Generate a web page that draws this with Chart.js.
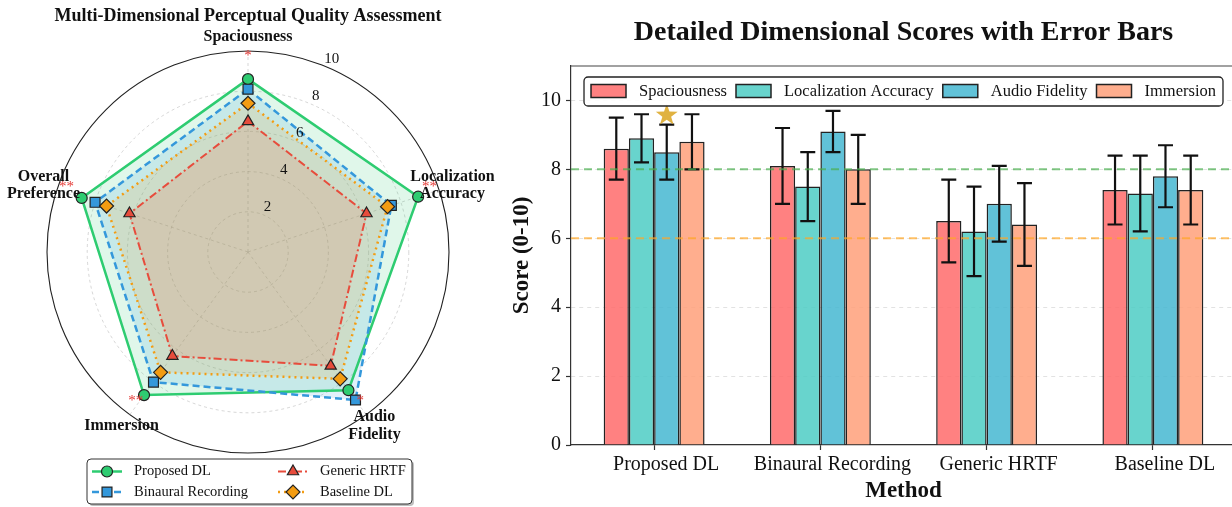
<!DOCTYPE html>
<html>
<head>
<meta charset="utf-8">
<script src="https://cdn.jsdelivr.net/npm/chart.js@4.4.0/dist/chart.umd.min.js"></script>
<style>
  html, body { margin: 0; padding: 0; background: #fff; overflow: hidden; }
  #wrap { position: relative; width: 1232px; height: 507px; overflow: hidden; }
  #radarBox { position: absolute; left: 0; top: 0; width: 500px; height: 507px; }
  #barBox { position: absolute; left: 500px; top: 0; width: 800px; height: 507px; }
</style>
</head>
<body>
<div id="wrap">
  <div id="radarBox"><canvas id="radarCanvas"></canvas></div>
  <div id="barBox"><canvas id="barCanvas"></canvas></div>
</div>
<script>
// ---- data ----
const methods = ['Proposed DL', 'Binaural Recording', 'Generic HRTF', 'Baseline DL'];
const dimensions = ['Spaciousness', 'Localization Accuracy', 'Audio Fidelity', 'Immersion', 'Overall Preference'];
const proposedScores = [8.6, 8.9, 8.5, 8.8, 8.7];
const binauralScores = [8.1, 7.5, 9.1, 8.0, 8.0];
const genericScores = [6.5, 6.2, 7.0, 6.4, 6.2];
const baselineScores = [7.4, 7.3, 7.8, 7.4, 7.4];
// error bars (first four dimensions only)
const proposedErr = [0.9, 0.7, 0.8, 0.8];
const binauralErr = [1.1, 1.0, 0.6, 1.0];
const genericErr = [1.2, 1.3, 1.1, 1.2];
const baselineErr = [1.0, 1.1, 0.9, 1.0];
const significance = ['*', '**', '*', '**', '**'];
const radialTickValues = [2, 4, 6, 8, 10];
const refLineValues = [8, 6];
const starMethod = 0, starDim = 2, starValue = 9.6;

const serif = '"Liberation Serif", "Times New Roman", serif';
Chart.defaults.font.family = serif;
Chart.defaults.color = '#111';

// ---- radar ----
const radarDecor = {
  id: 'radarDecor',
  afterDraw(chart) {
    const ctx = chart.ctx;
    const r = chart.scales.r;
    ctx.save();
    ctx.fillStyle = '#111';
    ctx.textAlign = 'center';
    ctx.textBaseline = 'middle';
    ctx.font = 'bold 18px ' + serif;
    ctx.fillText('Multi-Dimensional Perceptual Quality Assessment', r.xCenter, 16);

    // axis labels
    ctx.font = 'bold 16px ' + serif;
    dimensions.forEach((name, i) => {
      const p = r.getPointPositionForValue(i, 10.7);
      const lines = name.indexOf(' ') > 0 ? name.split(' ') : [name];
      lines.forEach((ln, k) => {
        ctx.fillText(ln, p.x, p.y + (k - (lines.length - 1) / 2) * 17.5);
      });
    });

    // radial tick labels
    ctx.font = '15px ' + serif;
    const a = 23.5 * Math.PI / 180;
    radialTickValues.forEach(v => {
      const d = r.getDistanceFromCenterForValue(v) + 9;
      ctx.fillText(String(v), r.xCenter + Math.sin(a) * d, r.yCenter - Math.cos(a) * d);
    });

    // significance markers
    ctx.fillStyle = '#e53935';
    ctx.font = '15px ' + serif;
    ctx.textBaseline = 'alphabetic';
    significance.forEach((s, i) => {
      const p = r.getPointPositionForValue(i, 9.5);
      ctx.fillText(s, p.x, p.y - 1.5);
    });

    // legend
    const bx = 87, by = 459, bw = 325, bh = 45;
    ctx.fillStyle = 'rgba(0,0,0,0.25)';
    ctx.beginPath(); ctx.roundRect(bx + 2, by + 2, bw, bh, 4); ctx.fill();
    ctx.fillStyle = '#fff';
    ctx.strokeStyle = '#333';
    ctx.lineWidth = 1;
    ctx.beginPath(); ctx.roundRect(bx, by, bw, bh, 4); ctx.fill(); ctx.stroke();
    const cols = [92, 278], rows = [471.5, 492];
    const order = [0, 2, 1, 3];
    order.forEach((di, k) => {
      const ds = chart.data.datasets[di];
      const x0 = cols[k % 2], y0 = rows[Math.floor(k / 2)];
      ctx.save();
      ctx.strokeStyle = ds.borderColor;
      ctx.lineWidth = ds.borderWidth;
      ctx.setLineDash(ds.borderDash || []);
      ctx.beginPath(); ctx.moveTo(x0, y0); ctx.lineTo(x0 + 30, y0); ctx.stroke();
      ctx.setLineDash([]);
      ctx.fillStyle = ds.pointBackgroundColor;
      ctx.strokeStyle = ds.pointBorderColor;
      ctx.lineWidth = ds.pointBorderWidth;
      Chart.helpers.drawPoint(ctx, {pointStyle: ds.pointStyle, radius: ds.pointRadius, borderWidth: ds.pointBorderWidth, rotation: 0}, x0 + 15, y0);
      ctx.restore();
      ctx.fillStyle = '#111';
      ctx.font = '14.5px ' + serif;
      ctx.textAlign = 'left';
      ctx.textBaseline = 'middle';
      ctx.fillText(ds.label, x0 + 42, y0);
    });
    ctx.restore();
  }
};

new Chart(document.getElementById('radarCanvas'), {
  type: 'radar',
  data: {
    labels: dimensions,
    datasets: [
      {label: 'Proposed DL', data: proposedScores, order: 4, borderColor: '#2ecc71', backgroundColor: 'rgba(46,204,113,0.15)',
       borderWidth: 2.5, fill: true, pointStyle: 'circle', pointRadius: 5.5,
       pointBackgroundColor: '#2ecc71', pointBorderColor: '#222', pointBorderWidth: 1.2},
      {label: 'Binaural Recording', data: binauralScores, order: 3, borderColor: '#3498db', backgroundColor: 'rgba(52,152,219,0.15)',
       borderWidth: 2.5, borderDash: [7, 4], fill: true, pointStyle: 'rect', pointRadius: 7,
       pointBackgroundColor: '#3498db', pointBorderColor: '#222', pointBorderWidth: 1.2},
      {label: 'Generic HRTF', data: genericScores, order: 2, borderColor: '#e74c3c', backgroundColor: 'rgba(231,76,60,0.15)',
       borderWidth: 2, borderDash: [8, 3, 2, 3], fill: true, pointStyle: 'triangle', pointRadius: 6.5,
       pointBackgroundColor: '#e74c3c', pointBorderColor: '#222', pointBorderWidth: 1.2},
      {label: 'Baseline DL', data: baselineScores, order: 1, borderColor: '#f39c12', backgroundColor: 'rgba(243,156,18,0.15)',
       borderWidth: 2.5, borderDash: [2, 4], fill: true, pointStyle: 'rectRot', pointRadius: 7,
       pointBackgroundColor: '#f39c12', pointBorderColor: '#222', pointBorderWidth: 1.2}
    ]
  },
  options: {
    responsive: true, maintainAspectRatio: false, animation: false,
    layout: {padding: {left: 47, right: 51, top: 51, bottom: 54}},
    plugins: {legend: {display: false}, tooltip: {enabled: false}, filler: {drawTime: 'beforeDatasetsDraw'}},
    elements: {line: {tension: 0}},
    scales: {
      r: {
        min: 0, max: 10,
        ticks: {stepSize: 2, display: false},
        pointLabels: {display: false},
        grid: {
          circular: true,
          color: c => c.tick && c.tick.value === 10 ? '#222' : 'rgba(170,170,170,0.6)',
          lineWidth: c => c.tick && c.tick.value === 10 ? 1.1 : 0.8
        },
        border: {dash: c => c.tick && c.tick.value === 10 ? [] : [3, 3]},
        angleLines: {color: 'rgba(170,170,170,0.6)', lineWidth: 0.8, borderDash: [3, 3]}
      }
    }
  },
  plugins: [radarDecor]
});

// ---- bars ----
const scoresByMethod = [proposedScores, binauralScores, genericScores, baselineScores];
const errByMethod = [proposedErr, binauralErr, genericErr, baselineErr];
const barColors = ['rgba(255,107,107,0.85)', 'rgba(78,205,196,0.85)', 'rgba(69,183,209,0.85)', 'rgba(255,160,122,0.85)'];
const barDims = dimensions.slice(0, 4);

const barDecor = {
  id: 'barDecor',
  afterDatasetsDraw(chart) {
    const ctx = chart.ctx, y = chart.scales.y, area = chart.chartArea;
    ctx.save();
    // error bars
    ctx.strokeStyle = '#111';
    ctx.lineWidth = 2.2;
    chart.data.datasets.forEach((ds, d) => {
      chart.getDatasetMeta(d).data.forEach((bar, m) => {
        const v = ds.data[m], e = errByMethod[m][d];
        const y1 = y.getPixelForValue(v + e), y2 = y.getPixelForValue(v - e);
        ctx.beginPath();
        ctx.moveTo(bar.x, y1); ctx.lineTo(bar.x, y2);
        ctx.moveTo(bar.x - 7.5, y1); ctx.lineTo(bar.x + 7.5, y1);
        ctx.moveTo(bar.x - 7.5, y2); ctx.lineTo(bar.x + 7.5, y2);
        ctx.stroke();
      });
    });
    // reference lines
    const refColors = ['rgba(76,175,80,0.7)', 'rgba(255,167,38,0.7)'];
    ctx.lineWidth = 2;
    ctx.setLineDash([8, 5]);
    refLineValues.forEach((v, i) => {
      const py = y.getPixelForValue(v);
      ctx.strokeStyle = refColors[i];
      ctx.beginPath(); ctx.moveTo(area.left, py); ctx.lineTo(area.right, py); ctx.stroke();
    });
    ctx.setLineDash([]);
    // star
    const sb = chart.getDatasetMeta(starDim).data[starMethod];
    const sy = y.getPixelForValue(starValue);
    ctx.fillStyle = 'rgba(218,165,32,0.85)';
    ctx.beginPath();
    for (let k = 0; k < 10; k++) {
      const rad = k % 2 ? 4.6 : 11.5;
      const ang = -Math.PI / 2 + k * Math.PI / 5;
      const px = sb.x + Math.cos(ang) * rad, py = sy + 1 + Math.sin(ang) * rad;
      k ? ctx.lineTo(px, py) : ctx.moveTo(px, py);
    }
    ctx.closePath(); ctx.fill();
    ctx.restore();
  },
  afterDraw(chart) {
    const ctx = chart.ctx, area = chart.chartArea;
    ctx.save();
    // title, centred over the plot
    ctx.fillStyle = '#111';
    ctx.textAlign = 'center';
    ctx.textBaseline = 'middle';
    ctx.font = 'bold 28px ' + serif;
    ctx.fillText('Detailed Dimensional Scores with Error Bars', (area.left + area.right) / 2, 33);
    // top spine
    ctx.strokeStyle = '#444';
    ctx.lineWidth = 1.2;
    ctx.beginPath(); ctx.moveTo(area.left, area.top); ctx.lineTo(area.right, area.top); ctx.stroke();
    // legend
    ctx.font = '16.5px ' + serif;
    const sw = 35, gap = 13, between = 9, pad = 7;
    const widths = barDims.map(t => ctx.measureText(t).width);
    const total = pad * 2 + widths.reduce((s, w) => s + sw + gap + w, 0) + between * (barDims.length - 1);
    const lx = (area.left + area.right) / 2 - total / 2, ly = 77, lh = 29;
    ctx.fillStyle = 'rgba(255,255,255,0.9)';
    ctx.strokeStyle = '#222';
    ctx.lineWidth = 1.3;
    ctx.beginPath(); ctx.roundRect(lx, ly, total, lh, 4); ctx.fill(); ctx.stroke();
    let cx = lx + pad;
    barDims.forEach((t, i) => {
      ctx.fillStyle = barColors[i];
      ctx.strokeStyle = '#222';
      ctx.lineWidth = 1.5;
      ctx.fillRect(cx, ly + 7.5, sw, 13);
      ctx.strokeRect(cx, ly + 7.5, sw, 13);
      ctx.fillStyle = '#111';
      ctx.textAlign = 'left';
      ctx.textBaseline = 'middle';
      ctx.fillText(t, cx + sw + gap, ly + lh / 2);
      cx += sw + gap + widths[i] + between;
    });
    ctx.restore();
  }
};

new Chart(document.getElementById('barCanvas'), {
  type: 'bar',
  data: {
    labels: methods,
    datasets: barDims.map((name, d) => ({
      label: name,
      data: scoresByMethod.map(s => s[d]),
      backgroundColor: barColors[d],
      borderColor: '#222',
      borderWidth: 1.5
    }))
  },
  options: {
    responsive: true, maintainAspectRatio: false, animation: false,
    layout: {padding: {left: 0, right: 64, top: 66, bottom: 0}},
    datasets: {bar: {categoryPercentage: 0.607, barPercentage: 1}},
    plugins: {legend: {display: false}, tooltip: {enabled: false}},
    scales: {
      x: {
        grid: {display: true, drawOnChartArea: false, offset: false, tickLength: 5, tickColor: '#333', tickWidth: 1.2},
        border: {color: '#333', width: 1.2},
        ticks: {font: {size: 20}, color: '#111', labelOffset: 12, padding: 3, maxRotation: 0, autoSkip: false},
        title: {display: true, text: 'Method', font: {size: 23, weight: 'bold'}, color: '#111', padding: {top: 0, bottom: 2}},
        afterFit: s => { s.height = 62; }
      },
      y: {
        min: 0, max: 11,
        ticks: {stepSize: 2, includeBounds: false, font: {size: 20}, color: '#111', padding: 5},
        grid: {color: c => c.tick && c.tick.value === 0 ? 'rgba(0,0,0,0)' : 'rgba(190,190,190,0.55)',
               lineWidth: 0.8, tickLength: 5, tickColor: '#333', tickWidth: 1.2},
        border: {color: '#333', width: 1.2, dash: [4, 4]},
        title: {display: true, text: 'Score (0-10)', font: {size: 23, weight: 'bold'}, color: '#111', padding: {top: 8}},
        afterFit: s => { s.width = 71; }
      }
    }
  },
  plugins: [barDecor]
});
</script>
</body>
</html>
